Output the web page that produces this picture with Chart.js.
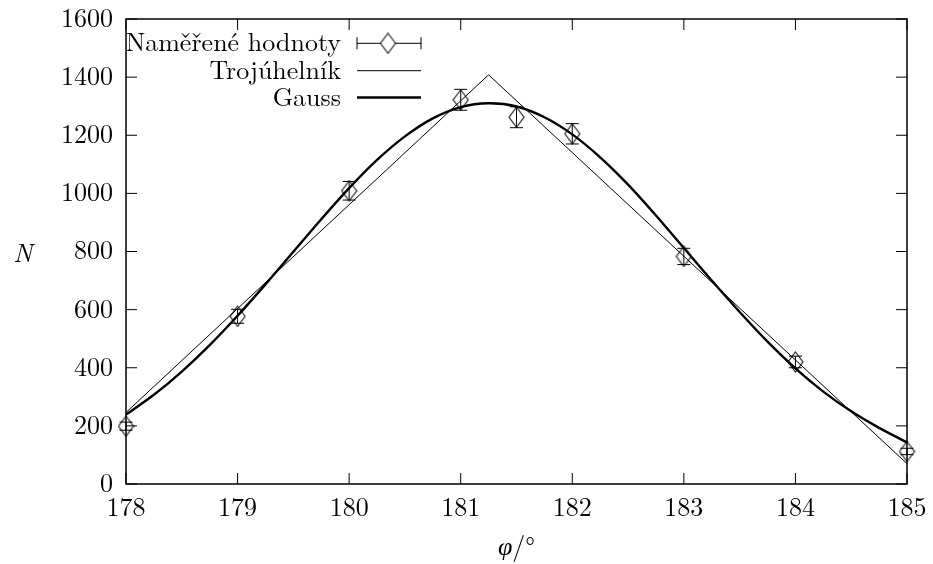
<!DOCTYPE html>
<html><head><meta charset="utf-8">
<script src="https://cdn.jsdelivr.net/npm/chart.js@4.4.1/dist/chart.umd.min.js"></script>
<style>html,body{margin:0;padding:0;background:#fff}#wrap{width:933px;height:564px}</style>
</head><body><div id="wrap"><canvas id="c" width="933" height="564"></canvas></div>
<script>
// ---- data ----
const xTicks = [178, 179, 180, 181, 182, 183, 184, 185];
const yTicks = [0, 200, 400, 600, 800, 1000, 1200, 1400, 1600];
const measAngle = [178, 179, 180, 181, 181.5, 182, 183, 184, 185];
const measCount = [199, 577, 1009, 1322, 1262, 1205, 783, 420, 112];
const measErr   = [14, 24, 32, 36, 36, 35, 28, 20, 11];
const triAngle = [178, 181.25, 185];
const triCount = [246, 1408, 70];
const gaussAngle = [178, 178.25, 178.5, 178.75, 179, 179.25, 179.5, 179.75, 180, 180.25, 180.5, 180.75, 181, 181.25,
                    181.5, 181.75, 182, 182.25, 182.5, 182.75, 183, 183.25, 183.5, 183.75, 184, 184.25, 184.5, 184.75, 185];
const gaussCount = [239, 307, 387, 478, 579, 687, 799, 911, 1018, 1115, 1196, 1258, 1297, 1310,
                    1299, 1262, 1203, 1124, 1030, 924, 812, 700, 592, 490, 398, 318, 250, 193, 143];
const labels = ['Naměřené hodnoty', 'Trojúhelník', 'Gauss'];

const SERIF = "'Latin Modern Roman'";

// diamond marker
const dia = document.createElement('canvas');
dia.width = 17; dia.height = 22;
(function(){
  const g = dia.getContext('2d');
  g.strokeStyle = '#222'; g.lineWidth = 1.2;
  g.beginPath(); g.moveTo(8.5, 1); g.lineTo(16, 11); g.lineTo(8.5, 21); g.lineTo(1, 11); g.closePath(); g.stroke();
})();

const pts = (xs, ys) => xs.map((x, i) => ({x, y: ys[i]}));

const framePlugin = {
  id: 'frame',
  afterDatasetsDraw(chart) {
    const {ctx, chartArea: a, scales: {x, y}} = chart;
    ctx.save();
    ctx.strokeStyle = '#000'; ctx.lineWidth = 1;
    measAngle.forEach((v, i) => {
      const px = x.getPixelForValue(v);
      const y1 = y.getPixelForValue(measCount[i] + measErr[i]);
      const y2 = y.getPixelForValue(measCount[i] - measErr[i]);
      ctx.beginPath();
      ctx.moveTo(px, y1); ctx.lineTo(px, y2);
      ctx.moveTo(px - 6.5, y1); ctx.lineTo(px + 6.5, y1);
      ctx.moveTo(px - 6.5, y2); ctx.lineTo(px + 6.5, y2);
      ctx.stroke();
    });
    ctx.lineWidth = 1.5;
    ctx.strokeRect(a.left, a.top, a.right - a.left, a.bottom - a.top);
    ctx.lineWidth = 1;
    const tl = 11;
    ctx.beginPath();
    xTicks.forEach(v => {
      const p = x.getPixelForValue(v);
      ctx.moveTo(p, a.bottom); ctx.lineTo(p, a.bottom - tl);
      ctx.moveTo(p, a.top); ctx.lineTo(p, a.top + tl);
    });
    yTicks.forEach(v => {
      const p = y.getPixelForValue(v);
      ctx.moveTo(a.left, p); ctx.lineTo(a.left + tl, p);
      ctx.moveTo(a.right, p); ctx.lineTo(a.right - tl, p);
    });
    ctx.stroke();
    // legend
    ctx.fillStyle = '#000';
    ctx.font = '26px ' + SERIF;
    ctx.textAlign = 'right'; ctx.textBaseline = 'alphabetic';
    const rows = [43.3, 70.7, 97.5];
    const sx1 = 357, sx2 = 421;
    labels.forEach((t, i) => ctx.fillText(t, 341, rows[i] + 8));
    ctx.lineWidth = 1;
    ctx.beginPath();
    ctx.moveTo(sx1, rows[0]); ctx.lineTo(sx2, rows[0]);
    ctx.moveTo(sx1, rows[0] - 6); ctx.lineTo(sx1, rows[0] + 6);
    ctx.moveTo(sx2, rows[0] - 6); ctx.lineTo(sx2, rows[0] + 6);
    ctx.stroke();
    ctx.fillStyle = '#fff';
    ctx.beginPath(); ctx.moveTo(388, rows[0]-10); ctx.lineTo(395.5, rows[0]); ctx.lineTo(388, rows[0]+10); ctx.lineTo(380.5, rows[0]); ctx.closePath(); ctx.fill();
    ctx.drawImage(dia, 388 - 8.5, rows[0] - 11);
    ctx.beginPath(); ctx.moveTo(sx1, rows[1]); ctx.lineTo(sx2, rows[1]); ctx.stroke();
    ctx.lineWidth = 2.4;
    ctx.beginPath(); ctx.moveTo(sx1, rows[2]); ctx.lineTo(sx2, rows[2]); ctx.stroke();
    // axis titles
    ctx.fillStyle = '#000';
    ctx.textAlign = 'center';
    ctx.font = 'italic 26px ' + SERIF;
    ctx.fillText('N', 23, 262);
    const w1 = ctx.measureText('φ').width;
    ctx.font = '26px ' + SERIF;
    const w2 = ctx.measureText('/°').width;
    const cx = (a.left + a.right) / 2, start = cx - (w1 + w2) / 2;
    ctx.textAlign = 'left';
    ctx.font = 'italic 26px ' + SERIF;
    ctx.fillText('φ', start, 555);
    ctx.font = '26px ' + SERIF;
    ctx.fillText('/°', start + w1, 555);
    ctx.restore();
  }
};

const zeroPad = s => { s.paddingTop = 0; s.paddingBottom = 0; s.paddingLeft = 0; s.paddingRight = 0; };

new Chart(document.getElementById('c'), {
  type: 'scatter',
  data: {
    datasets: [
      {label: labels[2], data: pts(gaussAngle, gaussCount), showLine: true, borderColor: '#000', borderWidth: 2.4,
       pointRadius: 0, tension: 0.3, order: 1, clip: false},
      {label: labels[1], data: pts(triAngle, triCount), showLine: true, borderColor: '#000', borderWidth: 1,
       pointRadius: 0, order: 2, clip: false},
      {label: labels[0], data: pts(measAngle, measCount), showLine: false, pointStyle: dia, pointRadius: 10,
       order: 3, clip: false}
    ]
  },
  options: {
    responsive: false, animation: false, devicePixelRatio: 1,
    layout: {padding: {left: 0, top: 19, right: 26, bottom: 0}},
    plugins: {legend: {display: false}, tooltip: {enabled: false}},
    scales: {
      x: {type: 'linear', min: 178, max: 185,
          afterBuildTicks: s => { s.ticks = xTicks.map(v => ({value: v})); },
          afterFit: s => { s.height = 80; zeroPad(s); },
          grid: {display: false, drawTicks: false}, border: {display: false},
          ticks: {font: {family: SERIF, size: 26}, color: '#000', padding: 8, maxRotation: 0, autoSkip: false,
                  callback: v => String(v)}},
      y: {type: 'linear', min: 0, max: 1600,
          afterBuildTicks: s => { s.ticks = yTicks.map(v => ({value: v})); },
          afterFit: s => { s.width = 126; zeroPad(s); },
          grid: {display: false, drawTicks: false}, border: {display: false},
          ticks: {font: {family: SERIF, size: 26}, color: '#000', padding: 13, autoSkip: false,
                  callback: v => String(v)}}
    }
  },
  plugins: [framePlugin]
});
</script>
</body></html>
